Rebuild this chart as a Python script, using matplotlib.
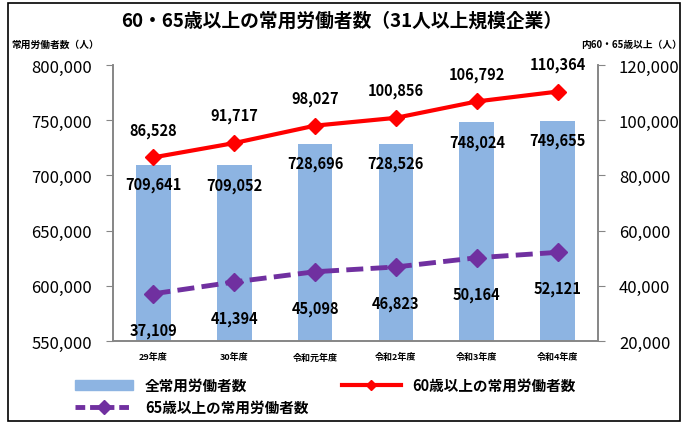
import matplotlib
matplotlib.use('Agg')
import matplotlib.pyplot as plt
from matplotlib.patches import Rectangle
from matplotlib.lines import Line2D

plt.rcParams['font.family'] = ['Noto Sans CJK JP', 'DejaVu Sans']

# データ
years = ['29年度', '30年度', '令和元年度', '令和2年度', '令和3年度', '令和4年度']
total_workers = [709641, 709052, 728696, 728526, 748024, 749655]
over60 = [86528, 91717, 98027, 100856, 106792, 110364]
over65 = [37109, 41394, 45098, 46823, 50164, 52121]
left_ticks = [550000, 600000, 650000, 700000, 750000, 800000]
right_ticks = [20000, 40000, 60000, 80000, 100000, 120000]

BAR_COLOR = '#8DB4E2'
RED = '#FF0000'
PURPLE = '#7030A0'
SPINE = '#868686'

fig = plt.figure(figsize=(6.85, 4.27), dpi=100)
ax = fig.add_axes([113 / 685, 1 - 342 / 427, (598 - 113) / 685, (342 - 66) / 427])
ax2 = ax.twinx()

x = list(range(len(years)))

# 棒グラフ（全常用労働者数）
ax.bar(x, total_workers, width=0.43, color=BAR_COLOR, zorder=1)
ax.set_ylim(550000, 800000)
ax.set_xlim(-0.5, len(years) - 0.5)
ax.set_yticks(left_ticks)
ax.set_yticklabels([f'{v:,}' for v in left_ticks], fontsize=12)
ax.set_xticks(x)
ax.set_xticklabels(years, fontsize=6.5, fontweight='bold')
ax.tick_params(axis='x', length=0, pad=8)
ax.tick_params(axis='y', length=5, color=SPINE, pad=10)

for xi, v in zip(x, total_workers):
    ax.annotate(f'{v:,}', (xi, v), xytext=(0, -14), textcoords='offset points',
                ha='center', va='center', fontsize=10.5, fontweight='bold')

# 折れ線（60歳以上・65歳以上）
ax2.set_ylim(20000, 120000)
ax2.set_yticks(right_ticks)
ax2.set_yticklabels([f'{v:,}' for v in right_ticks], fontsize=12)
ax2.tick_params(axis='y', length=5, color=SPINE, pad=10)

ax2.plot(x, over60, color=RED, lw=3, marker='D', ms=8, zorder=3)
ax2.plot(x, over65, color=PURPLE, lw=3.5, ls=(0, (3.5, 1.5)), marker='D', ms=9, zorder=3)

for xi, v in zip(x, over60):
    ax2.annotate(f'{v:,}', (xi, v), xytext=(0, 20), textcoords='offset points',
                 ha='center', va='center', fontsize=10.5, fontweight='bold')
for xi, v in zip(x, over65):
    ax2.annotate(f'{v:,}', (xi, v), xytext=(0, -26), textcoords='offset points',
                 ha='center', va='center', fontsize=10.5, fontweight='bold')

for a in (ax, ax2):
    a.spines['top'].set_visible(False)
    for s in ('left', 'right', 'bottom'):
        a.spines[s].set_color(SPINE)
        a.spines[s].set_linewidth(1.2)

# タイトル・軸ラベル
fig.text(342 / 685, 1 - 21 / 427, '60・65歳以上の常用労働者数（31人以上規模企業）',
         ha='center', va='center', fontsize=13.5, fontweight='bold')
fig.text(55 / 685, 1 - 45 / 427, '常用労働者数（人）', ha='center', va='center',
         fontsize=7, fontweight='bold')
fig.text(632 / 685, 1 - 45 / 427, '内60・65歳以上（人）', ha='center', va='center',
         fontsize=7, fontweight='bold')

# 凡例
handles = [
    Rectangle((0, 0), 1, 1, color=BAR_COLOR),
    Line2D([], [], color=PURPLE, lw=3.5, ls=(0, (2, 1)), marker='D', ms=7),
    Line2D([], [], color=RED, lw=3, marker='D', ms=5),
]
labels = ['全常用労働者数', '65歳以上の常用労働者数', '60歳以上の常用労働者数']
fig.legend(handles, labels, loc='center left', bbox_to_anchor=(62 / 685, 1 - 397 / 427),
           ncol=2, frameon=False, handlelength=4,
           columnspacing=2.3, labelspacing=0.4,
           prop={'weight': 'bold', 'size': 10.5})

# 外枠
fig.patches.append(Rectangle((8 / 685, 5 / 427), 672 / 685, 418 / 427,
                             transform=fig.transFigure, fill=False,
                             edgecolor='black', lw=1.2))

fig.savefig('out.png', dpi=100)
